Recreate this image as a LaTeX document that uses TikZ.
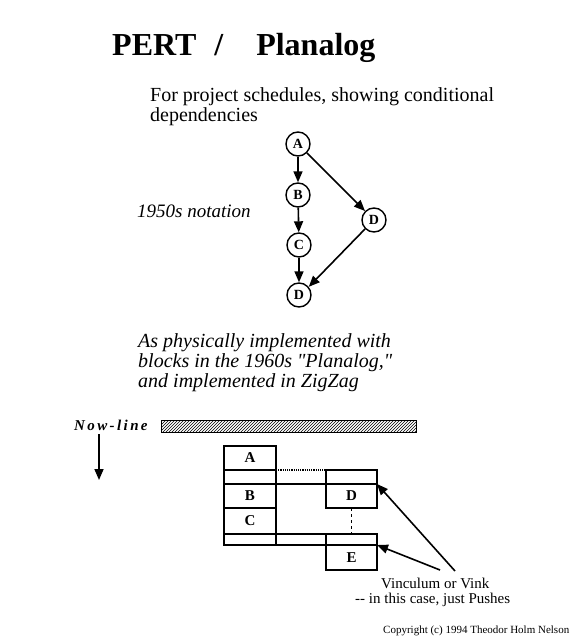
\documentclass[tikz,border=0pt]{standalone}
\usepackage{fontspec}
\setmainfont{Liberation Serif}[Ligatures=TeXOff]
\usetikzlibrary{positioning,arrows.meta,patterns}

\begin{document}
\begin{tikzpicture}[x=1pt,y=-1pt]
\tikzstyle{vertex}=[circle, draw, line width=1.4pt, minimum size=24pt, inner sep=0pt, font=\fontsize{14}{14}\selectfont\bfseries]
\tikzstyle{block}=[rectangle, draw, line width=1.6pt, minimum width=52pt, inner sep=0pt, outer sep=0pt, font=\fontsize{15}{15}\selectfont\bfseries]
\tikzstyle{label}=[anchor=base west, inner sep=0pt, align=left]
\tikzstyle{pert}=[-{Triangle[length=11pt,width=9pt]}, line width=1.6pt]
\useasboundingbox (0,0) rectangle (580,640);

% heading and notes (base = last line)
\node[label, font=\fontsize{32}{32}\selectfont\bfseries] (title) at (112,55) {PERT\hspace{18pt}/\hspace{33pt}Planalog};
\node[label, font=\fontsize{20}{19.5}\selectfont] (purpose) at (150,121) {For project schedules, showing conditional\\dependencies};
\node[label, font=\fontsize{19}{19}\selectfont\itshape] (era) at (137,217) {1950s notation};
\node[label, font=\fontsize{20}{20}\selectfont\itshape] (planalog) at (138,387) {As physically implemented with\\blocks in the 1960s "Planalog,"\\and implemented in ZigZag};

% 1950s graph
\node[vertex] (A) at (298,144) {A};
\node[vertex] (B) at (298,195) {B};
\node[vertex] (C) at (299,245) {C};
\node[vertex] (D2) at (299,295) {D};
\node[vertex] (D1) at (374,220) {D};
\foreach \i/\j in {A/B,B/C,C/D2}{\draw[pert] (\i) -- (\j);}
\draw[pert] (A.south east) -- (D1.north west);
\draw[pert] (D1.south west) -- (D2.40);

% now-line
\node[label, font=\fontsize{15}{15}\selectfont\bfseries\itshape\addfontfeatures{LetterSpace=16}] (now) at (74,430) {Now-line};
\node[draw, line width=1.4pt, pattern=north east lines, minimum width=255pt, minimum height=12pt, inner sep=0pt, anchor=north west] (nowbar) at (161,420) {};
\coordinate (nowtail) at (99,434);
\coordinate (nowtip) at (99,480);
\draw[pert] (nowtail) -- (nowtip);

% planalog blocks
\node[block, minimum height=24pt, anchor=north west] (blkA) at (224,446) {A};
\node[block, minimum height=14pt, below=0pt of blkA] (gapA) {};
\node[block, minimum height=24pt, below=0pt of gapA] (blkB) {B};
\node[block, minimum height=26pt, below=0pt of blkB] (blkC) {C};
\node[block, minimum height=11pt, below=0pt of blkC] (gapC) {};
\node[block, minimum width=51pt, minimum height=14pt, anchor=north west] (pushD) at (326,470) {};
\node[block, minimum width=51pt, minimum height=24pt, below=0pt of pushD] (blkD) {D};
\node[block, minimum width=51pt, minimum height=11pt, anchor=north west] (pushE) at (326,534) {};
\node[block, minimum width=51pt, minimum height=25pt, below=0pt of pushE] (blkE) {E};
\draw[line width=1.2pt, densely dotted] (gapA.north east) -- (pushD.north west);
\draw[line width=1.6pt] (gapA.south east) -- (pushD.south west);
\draw[line width=1.6pt] (gapC.north east) -- (pushE.north west);
\draw[line width=1.6pt] (gapC.south east) -- (pushE.south west);
\draw[line width=1.2pt, dashed] (blkD.south) -- (pushE.north);

% vinculum
\node[label, font=\fontsize{15}{15}\selectfont] (vink) at (381,588) {Vinculum or Vink};
\node[label, font=\fontsize{15}{15}\selectfont] (push) at (355,603) {-- in this case, just Pushes};
\coordinate (vinktail) at (455,571);
\coordinate (pushtail) at (440,570);
\draw[pert] (vinktail) -- (pushD.south east);
\draw[pert] (pushtail) -- (pushE.south east);

\node[label, font=\fontsize{11}{11}\selectfont] (copy) at (383,633) {Copyright (c) 1994 Theodor Holm Nelson};
\end{tikzpicture}
\end{document}
